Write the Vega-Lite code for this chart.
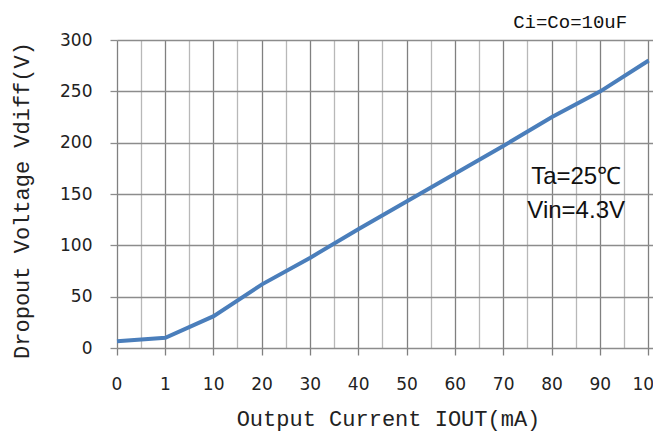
{
  "$schema": "https://vega.github.io/schema/vega-lite/v6.json",
  "width": 580,
  "height": 308,
  "autosize": {"type": "none"},
  "padding": {"left": 117, "top": 40, "right": 0, "bottom": 84},
  "background": "white",
  "config": {"view": {"stroke": null}},
  "datasets": {
    "curve": [
      {"iout": 0, "vdiff": 6.5},
      {"iout": 1, "vdiff": 10},
      {"iout": 10, "vdiff": 31},
      {"iout": 20, "vdiff": 62},
      {"iout": 30, "vdiff": 88},
      {"iout": 40, "vdiff": 116},
      {"iout": 50, "vdiff": 143},
      {"iout": 60, "vdiff": 170},
      {"iout": 70, "vdiff": 197},
      {"iout": 80, "vdiff": 225},
      {"iout": 90, "vdiff": 250},
      {"iout": 100, "vdiff": 280}
    ],
    "notes": [
      {"label": "Ta=25℃", "iout": 80, "vdiff": 166.5},
      {"label": "Vin=4.3V", "iout": 80, "vdiff": 133.5}
    ],
    "cap": [
      {"label": "Ci=Co=10uF", "iout": 80, "vdiff": 318}
    ]
  },
  "layer": [
    {
      "data": {"name": "curve"},
      "mark": {"type": "line", "color": "#4a7ebb", "strokeWidth": 4},
      "encoding": {
        "x": {
          "field": "iout",
          "type": "ordinal",
          "bandPosition": 0,
          "scale": {"type": "band", "domain": [0, 1, 10, 20, 30, 40, 50, 60, 70, 80, 90, 100], "paddingInner": 0, "paddingOuter": 0},
          "axis": {
            "bandPosition": 0.001,
            "orient": "bottom",
            "labelAngle": 0,
            "labelOffset": -24.2,
            "grid": true,
            "gridColor": "#808080",
            "gridWidth": 1.3,
            "domain": false,
            "tickSize": 7,
            "tickColor": "#808080",
            "tickWidth": 1.3,
            "labelFont": "DejaVu Sans",
            "labelFontSize": 17,
            "labelColor": "#222222",
            "labelPadding": 21,
            "title": "Output Current IOUT(mA)",
            "titleFont": "Liberation Mono",
            "titleFontSize": 22,
            "titleFontWeight": "normal",
            "titleColor": "#222222",
            "titlePadding": 16,
            "titleX": 271
          }
        },
        "y": {
          "field": "vdiff",
          "type": "quantitative",
          "scale": {"domain": [0, 300], "nice": false},
          "axis": {
            "values": [0, 50, 100, 150, 200, 250, 300],
            "grid": true,
            "gridColor": "#8c8c8c",
            "gridWidth": 1.3,
            "domain": false,
            "tickSize": 7,
            "tickColor": "#8c8c8c",
            "tickWidth": 1.3,
            "labelFont": "DejaVu Sans",
            "labelFontSize": 17,
            "labelColor": "#222222",
            "labelPadding": 18,
            "title": "Dropout Voltage Vdiff(V)",
            "titleFont": "Liberation Mono",
            "titleFontSize": 22,
            "titleFontWeight": "normal",
            "titleColor": "#222222",
            "titlePadding": 26,
            "titleY": 160
          }
        }
      }
    },
    {
      "data": {"name": "notes"},
      "mark": {"type": "text", "font": "Liberation Sans", "fontSize": 24, "color": "#111111", "baseline": "middle", "align": "center"},
      "encoding": {
        "x": {
          "field": "iout",
          "type": "ordinal",
          "scale": {"type": "band", "domain": [0, 1, 10, 20, 30, 40, 50, 60, 70, 80, 90, 100], "paddingInner": 0, "paddingOuter": 0},
          "axis": {
            "bandPosition": 0.5,
            "orient": "top",
            "grid": true,
            "gridColor": "#b8b8b8",
            "gridWidth": 1.3,
            "ticks": false,
            "labels": false,
            "domain": false,
            "title": null
          }
        },
        "y": {"field": "vdiff", "type": "quantitative"},
        "text": {"field": "label"}
      }
    },
    {
      "data": {"name": "cap"},
      "mark": {"type": "text", "font": "Liberation Mono", "fontSize": 19, "color": "#111111", "baseline": "middle", "align": "center", "dx": -6},
      "encoding": {
        "x": {"field": "iout", "type": "ordinal", "axis": null},
        "y": {"field": "vdiff", "type": "quantitative"},
        "text": {"field": "label"}
      }
    }
  ],
  "resolve": {"axis": {"x": "independent"}}
}
